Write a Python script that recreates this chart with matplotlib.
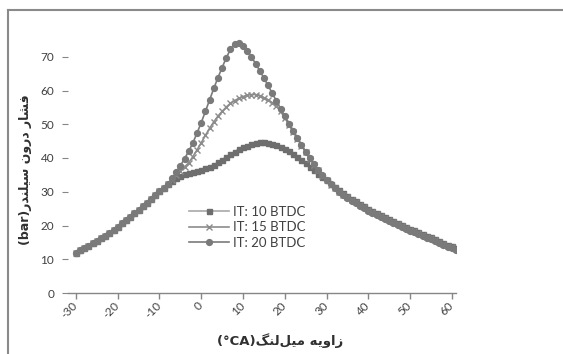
import numpy as np
import matplotlib
matplotlib.use("Agg")
import matplotlib.pyplot as plt
from matplotlib.lines import Line2D

plt.rcParams["font.family"] = ["Lato", "DejaVu Sans"]

# --- data ---
crank_angle = np.arange(-30, 62)

# compression stroke, shared by all three runs (-30 .. -8 deg)
compression = [12.0, 12.6, 13.3, 14.0, 14.7, 15.4, 16.2, 17.0, 17.9, 18.8, 19.7, 20.6,
               21.6, 22.6, 23.6, 24.6, 25.7, 26.8, 27.9, 29.0, 30.1, 31.2, 32.3]

# -7 .. 61 deg
it10_tail = [33.3, 34.2, 34.8, 35.2, 35.5, 35.8, 36.1, 36.5, 36.9, 37.4, 38.0, 38.7,
             39.5, 40.3, 41.1, 41.9, 42.6, 43.2, 43.7, 44.1, 44.4, 44.6, 44.6, 44.5,
             44.2, 43.8, 43.3, 42.7, 42.0, 41.2, 40.3, 39.4, 38.4, 37.4, 36.4, 35.4,
             34.4, 33.4, 32.4, 31.4, 30.5, 29.6, 28.8, 28.0, 27.2, 26.4, 25.7, 25.0,
             24.3, 23.7, 23.1, 22.5, 21.9, 21.3, 20.7, 20.2, 19.6, 19.1, 18.6, 18.0,
             17.5, 17.0, 16.5, 15.9, 15.4, 14.8, 14.3, 13.8, 13.3]
it15_tail = [33.6, 35.0, 36.2, 37.3, 38.6, 40.4, 42.4, 44.5, 46.7, 48.8, 50.7, 52.4,
             53.8, 55.1, 56.2, 57.0, 57.7, 58.2, 58.6, 58.8, 58.8, 58.5, 57.9, 57.2,
             56.4, 55.4, 53.8, 51.9, 49.9, 47.8, 45.7, 43.7, 41.7, 39.8, 38.0, 36.3,
             34.8, 33.4, 32.1, 31.0, 30.0, 29.1, 28.3, 27.6, 26.9, 26.2, 25.4, 24.6,
             24.0, 23.4, 22.8, 22.2, 21.6, 21.0, 20.4, 19.9, 19.3, 18.8, 18.3, 17.7,
             17.2, 16.7, 16.2, 15.6, 15.1, 14.5, 14.0, 13.5, 13.0]
it20_tail = [34.0, 35.8, 37.7, 39.8, 42.0, 44.5, 47.4, 50.5, 53.8, 57.2, 60.6, 63.8,
             66.8, 69.7, 72.2, 73.9, 74.0, 73.2, 71.8, 70.0, 68.0, 65.9, 63.7, 61.5,
             59.2, 56.9, 54.6, 52.3, 50.1, 48.0, 45.9, 43.9, 41.9, 40.0, 38.2, 36.5,
             34.9, 33.5, 32.2, 31.0, 29.9, 28.9, 28.1, 27.4, 26.7, 25.9, 25.1, 24.3,
             23.7, 23.1, 22.5, 21.9, 21.3, 20.7, 20.1, 19.6, 19.0, 18.5, 18.0, 17.4,
             16.9, 16.4, 15.9, 15.3, 14.8, 14.2, 13.7, 13.2, 12.7]

series_labels = ["IT: 10 BTDC", "IT: 15 BTDC", "IT: 20 BTDC"]
x_ticks = [-30, -20, -10, 0, 10, 20, 30, 40, 50, 60]
y_ticks = [0, 10, 20, 30, 40, 50, 60, 70]

# --- persian text: matplotlib has no shaping, so pick presentation forms by hand ---
DUAL = {
    "ف": "\uFED1\uFED2\uFED3\uFED4",
    "ش": "\uFEB5\uFEB6\uFEB7\uFEB8",
    "ن": "\uFEE5\uFEE6\uFEE7\uFEE8",
    "س": "\uFEB1\uFEB2\uFEB3\uFEB4",
    "ی": "\uFBFC\uFBFD\uFEF3\uFEF4",
    "ل": "\uFEDD\uFEDE\uFEDF\uFEE0",
    "ه": "\uFEE9\uFEEA\uFEEB\uFEEC",
    "م": "\uFEE1\uFEE2\uFEE3\uFEE4",
    "گ": "\uFB92\uFB93\uFB94\uFB95",
}
RIGHT = {"ا": "\uFE8D\uFE8E", "ر": "\uFEAD\uFEAE", "د": "\uFEA9\uFEAA",
         "و": "\uFEED\uFEEE", "ز": "\uFEAF\uFEB0"}


def rtl(text):
    out = []
    for i, c in enumerate(text):
        prev_joins = i > 0 and text[i - 1] in DUAL
        next_letter = i < len(text) - 1 and (text[i + 1] in DUAL or text[i + 1] in RIGHT)
        if c in DUAL:
            if prev_joins and next_letter:
                out.append(DUAL[c][3])
            elif prev_joins:
                out.append(DUAL[c][1])
            elif next_letter:
                out.append(DUAL[c][2])
            else:
                out.append(DUAL[c][0])
        elif c in RIGHT:
            out.append(RIGHT[c][1] if prev_joins else RIGHT[c][0])
        elif c == "\u200c":
            continue
        else:
            out.append(c)
    return "".join(out)[::-1]


ylabel = "(bar)" + rtl("فشار درون سیلندر")
xlabel = "(°CA)" + rtl("زاویه میل\u200cلنگ")

# --- figure ---
W, H = 563, 354
fig = plt.figure(figsize=(W / 100, H / 100), dpi=100)
fig.patch.set_facecolor("white")

# outer chart frame (cut off at right and bottom like the reference)
fig.add_artist(Line2D([8 / W, 8 / W], [0, 1 - 10 / H], transform=fig.transFigure,
                      color="#8a8a8a", lw=1.5))
fig.add_artist(Line2D([8 / W, 1], [1 - 10 / H, 1 - 10 / H], transform=fig.transFigure,
                      color="#8a8a8a", lw=1.5))

ax = fig.add_axes([68 / W, 1 - 293 / H, (456 - 68) / W, (293 - 23) / H])

styles = [
    dict(marker="s", ms=3.6, color="#a8a8a8", mfc="#6e6e6e", mec="#6e6e6e"),
    dict(marker="x", ms=4.5, mew=1.0, color="#8c8c8c", mfc="#8c8c8c", mec="#8c8c8c"),
    dict(marker="o", ms=4.2, color="#7a7a7a", mfc="#7a7a7a", mec="#7a7a7a"),
]
for tail, label, st in zip([it10_tail, it15_tail, it20_tail], series_labels, styles):
    ax.plot(crank_angle, compression + tail, lw=1.2, label=label, **st)

ax.set_xlim(-31.9, 61.0)
ax.set_ylim(0, 80)
ax.set_xticks(x_ticks)
ax.set_yticks(y_ticks)
ax.set_xticklabels([str(v) for v in x_ticks], rotation=45, ha="right", va="center",
                   rotation_mode="anchor")

for side in ["top", "right", "left"]:
    ax.spines[side].set_visible(False)
ax.spines["bottom"].set_color("#868686")
ax.spines["bottom"].set_linewidth(1.0)
ax.tick_params(axis="x", direction="out", length=4, width=1.0, color="#868686",
               labelsize=8.5, labelcolor="#404040", pad=4)
ax.tick_params(axis="y", direction="out", length=4, width=0.8, color="#868686",
               labelsize=8.5, labelcolor="#404040", pad=6)

fig.text(26 / W, 1 - 170 / H, ylabel, rotation=90, ha="center", va="center",
         fontsize=9, fontweight="bold", color="#303030",
         family=["DejaVu Sans"])
fig.text(280 / W, 1 - 341 / H, xlabel, ha="center", va="center",
         fontsize=9.5, fontweight="bold", color="#303030",
         family=["DejaVu Sans"])

ax.legend(loc="upper left", bbox_to_anchor=(189 / W, 1 - 206 / H),
          bbox_transform=fig.transFigure, frameon=False, fontsize=9.5,
          handlelength=3.0, handletextpad=0.3, labelspacing=0.25, borderpad=0,
          borderaxespad=0, labelcolor="#404040")

fig.savefig("out.png", dpi=100, facecolor="white")
